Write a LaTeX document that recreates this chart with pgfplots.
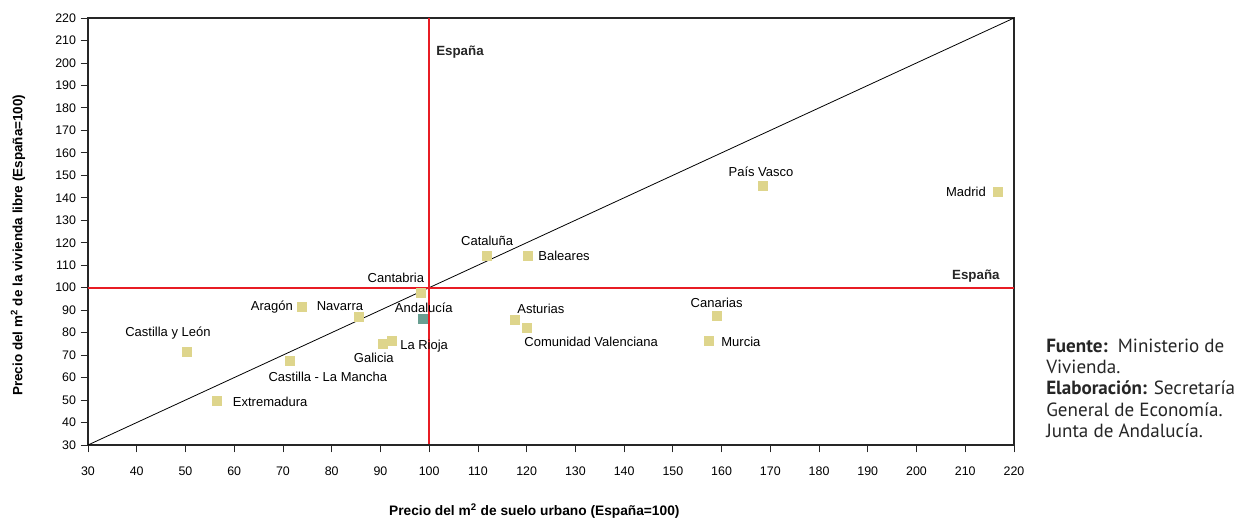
\documentclass[border=0pt]{standalone}
\usepackage{pgfplots}
\pgfplotsset{compat=1.18}
\usepackage{pgfplotstable}
\usepackage{fontspec}
\setmainfont{Liberation Sans}
\newfontfamily\srcfont{PT Sans}
\definecolor{khaki}{RGB}{222,213,140}
\definecolor{tealm}{RGB}{104,158,145}
\definecolor{espred}{RGB}{232,28,36}

\pgfplotstableread[col sep=comma]{
x,y,dx,dy,label
50.3,71.4,-14.25,14.25,Castilla y León
56.5,49.6,39.75,-0.75,Extremadura
71.4,67.4,28.5,-12,Castilla - La Mancha
73.9,91.4,-22.5,0,Aragón
85.6,87.0,-14.25,8.25,Navarra
90.5,74.9,-6.75,-10.5,Galicia
92.4,76.3,24,-3.75,La Rioja
98.3,97.6,-18.75,11.25,Cantabria
111.9,114.1,0,11.25,Cataluña
120.3,114.1,27,0,Baleares
117.6,85.6,19.5,8.25,Asturias
120.1,82.1,48,-10.5,Comunidad Valenciana
159.0,87.4,0,9.75,Canarias
157.4,76.3,24,-0.75,Murcia
168.5,145.3,-1.5,10.5,País Vasco
216.7,142.6,-24,0,Madrid
}\regions

\pgfplotstableread[col sep=comma]{
x,y,dx,dy,label
98.7,86.1,0.75,8.25,Andalucía
}\andalucia

\begin{document}
\begin{tikzpicture}
\begin{axis}[
  scale only axis,
  width=694.5pt, height=320.25pt,
  xmin=30, xmax=220, ymin=30, ymax=220,
  xtick={30,40,...,220}, ytick={30,40,...,220},
  tick align=outside, xtick pos=left, ytick pos=left,
  major tick length=5.5pt,
  axis line style={black!85, line width=0.8pt},
  tick style={black!85, line width=0.6pt},
  /pgf/number format/assume math mode=true,
  ticklabel style={font=\fontsize{9.3}{10}\selectfont},
  xticklabel style={yshift=-7.5pt},
  xlabel={\textbf{Precio del m\textsuperscript{2} de suelo urbano (España=100)}},
  ylabel={\textbf{Precio del m\textsuperscript{2} de la vivienda libre (España=100)}},
  xlabel style={at={(axis description cs:0.482,0)}, anchor=center, yshift=-49.5pt, font=\fontsize{10.3}{11}\selectfont},
  ylabel style={at={(axis description cs:0,0.468)}, anchor=center, yshift=52.5pt, font=\fontsize{10.1}{11}\selectfont},
  clip=true,
  reglab/.style={
    only marks, mark=square*, mark size=3.4pt,
    nodes near coords, point meta=explicit symbolic,
    visualization depends on={\thisrow{dx} \as \dx},
    visualization depends on={\thisrow{dy} \as \dy},
    every node near coord/.append style={anchor=center, xshift=\dx pt, yshift=\dy pt,
      font=\fontsize{9.75}{11}\selectfont, text=black, inner sep=0pt},
  },
]
\addplot[black, line width=0.6pt] coordinates {(30,30) (220,220)};
\addplot[espred, line width=1.6pt] coordinates {(100,30.5) (100,220)};
\addplot[espred, line width=1.6pt] coordinates {(30,100) (220,100)};
\addplot[reglab, mark options={fill=khaki, draw=khaki}] table[meta=label] {\regions};
\addplot[reglab, mark options={fill=tealm, draw=tealm}] table[meta=label] {\andalucia};
\node[anchor=west, inner sep=0pt, font=\bfseries\fontsize{10}{11}\selectfont, text=black!85] at (axis cs:101.4,204.9) {España};
\node[anchor=east, inner sep=0pt, font=\bfseries\fontsize{10}{11}\selectfont, text=black!85] at (axis cs:217.1,105.2) {España};
\end{axis}
\begin{scope}[every node/.style={anchor=base west, inner sep=0pt, font=\srcfont\fontsize{14.3}{16}\selectfont, text=black!85}]
\node at ([xshift=24pt, yshift=-250.5pt]current axis.north east) {\textbf{Fuente:}\ \ Ministerio de};
\node at ([xshift=24pt, yshift=-266.25pt]current axis.north east) {Vivienda.};
\node at ([xshift=24pt, yshift=-282.4pt]current axis.north east) {\textbf{Elaboración:} Secretaría};
\node at ([xshift=24pt, yshift=-298.5pt]current axis.north east) {General de Economía.};
\node at ([xshift=24pt, yshift=-314.25pt]current axis.north east) {Junta de Andalucía.};
\end{scope}
\pgfresetboundingbox
\path (current axis.south west) ++(-66pt,-55.5pt) rectangle ++(927.75pt,389.25pt);
\end{tikzpicture}
\end{document}
